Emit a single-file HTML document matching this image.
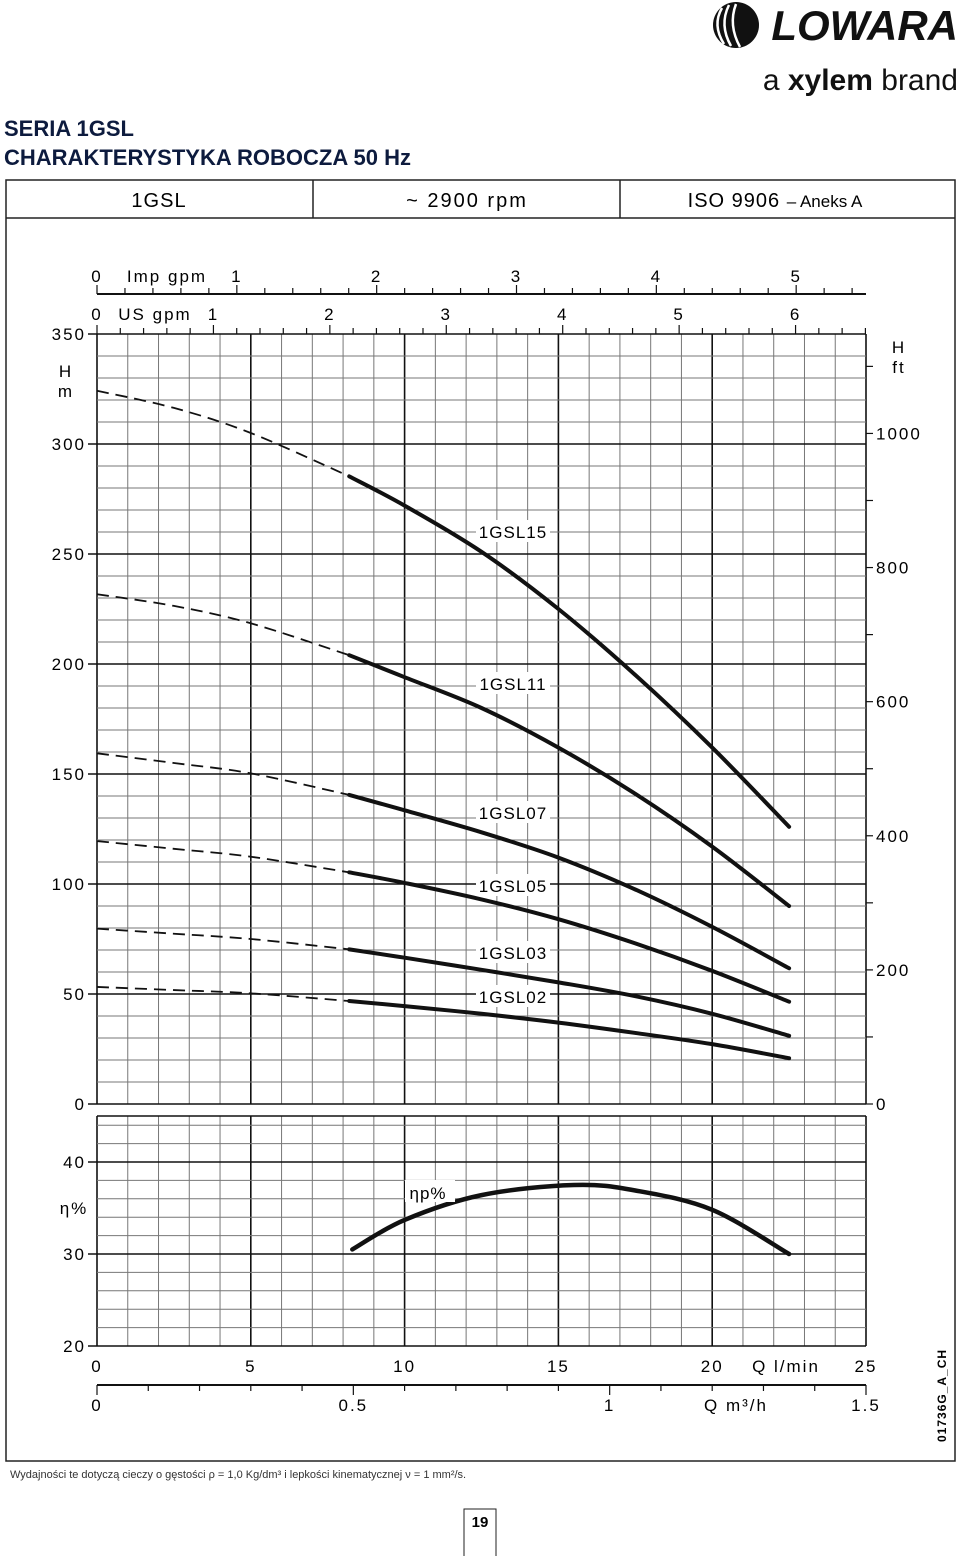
<!DOCTYPE html>
<html><head><meta charset="utf-8"><style>
html,body{margin:0;padding:0;background:#fff}
body{width:960px;height:1556px;position:relative;overflow:hidden;font-family:"Liberation Sans",sans-serif}
svg text{font-family:"Liberation Sans",sans-serif}
</style></head><body>
<svg id="chart" width="960" height="1556" viewBox="0 0 960 1556" xmlns="http://www.w3.org/2000/svg">
<g>
 <circle cx="736" cy="25" r="23" fill="#111"/>
 <path d="M722 8 Q712 25 724 44 M729 5 Q719 25 731 46 M736 4 Q728 25 740 47" stroke="#fff" stroke-width="2.5" fill="none"/>
 <text x="958" y="40" text-anchor="end" font-size="42" font-weight="bold" font-style="italic" fill="#111">LOWARA</text>
 <text x="958" y="90" text-anchor="end" font-size="30" fill="#111">a <tspan font-weight="bold">xylem</tspan> brand</text>
</g>
<text x="4" y="136" font-size="22" font-weight="bold" fill="#0d1b3e">SERIA 1GSL</text>
<text x="4" y="165" font-size="22" font-weight="bold" fill="#0d1b3e">CHARAKTERYSTYKA ROBOCZA 50 Hz</text>
<g stroke="#222" stroke-width="1.5" fill="none">
 <rect x="6" y="180" width="949" height="1281"/>
 <line x1="6" y1="218" x2="955" y2="218"/>
 <line x1="313" y1="180" x2="313" y2="218"/>
 <line x1="620" y1="180" x2="620" y2="218"/>
</g>
<text x="159" y="207" text-anchor="middle" font-size="20" letter-spacing="1">1GSL</text>
<text x="467" y="207" text-anchor="middle" font-size="20" letter-spacing="2">~ 2900 rpm</text>
<text x="775" y="207" text-anchor="middle" font-size="20" letter-spacing="1">ISO 9906 <tspan font-size="17" letter-spacing="0">– Aneks A</tspan></text>
<g id="grid"></g><g id="axes"></g><g id="curves"></g>
<text x="10" y="1478" font-size="11" fill="#333">Wydajności te dotyczą cieczy o gęstości ρ = 1,0 Kg/dm³ i lepkości kinematycznej ν = 1 mm²/s.</text>
<rect x="464" y="1509" width="32" height="50" fill="none" stroke="#222" stroke-width="1"/>
<text x="480" y="1527" text-anchor="middle" font-size="15" font-weight="bold">19</text>
<text transform="translate(946,1442) rotate(-90)" font-size="12" font-weight="bold" letter-spacing="1">01736G_A_CH</text>
</svg>
<script>
const qValues=[0,2.5,5,8.2,10,12.5,15,17.5,20,22.5];
const hGSL15=[324.2,316.4,305,285.3,272,251,225,195,162,126];
const hGSL11=[231.7,226.4,218.5,204,194,180,162,141,117,90];
const hGSL07=[159.4,155,150.3,140.5,133.5,123.5,112,97.5,80.5,61.7];
const hGSL05=[119.5,116,112.4,105.3,100.5,93,84,73,60.5,46.5];
const hGSL03=[79.7,77.4,75,70.3,66.5,61,55.3,49,41,31];
const hGSL02=[53.2,51.8,50.3,46.8,44.5,41,37,32.3,27.2,20.8];
const effQ=[8.3,10,12.5,15.5,17.5,20,22.5];
const effValues=[30.5,33.7,36.4,37.5,36.9,34.8,30];
const hTicks=[0,50,100,150,200,250,300,350];
const ftTicks=[0,200,400,600,800,1000];
const effTicks=[20,30,40];
const qTicks=[0,5,10,15,20,25];
const m3hTicks=[0,0.5,1,1.5];
const impTicks=[0,1,2,3,4,5];
const usTicks=[0,1,2,3,4,5,6];
const seriesNames=["1GSL15","1GSL11","1GSL07","1GSL05","1GSL03","1GSL02"];
const labelY=[531,683,812,885,952,996];
const NS="http://www.w3.org/2000/svg";
const X=q=>97+q*769/25;
const Y=h=>1104-h*2.2;
const YE=e=>1346-(e-20)*9.2;
function mk(tag,attrs,parent,txt){const e=document.createElementNS(NS,tag);for(const k in attrs)e.setAttribute(k,attrs[k]);if(txt!==undefined)e.textContent=txt;parent.appendChild(e);return e;}
const grid=document.getElementById('grid'),axes=document.getElementById('axes'),curves=document.getElementById('curves');
for(let q=0;q<=25;q++){const ln=mk('line',{x1:X(q),y1:Y(350),x2:X(q),y2:Y(0),stroke:q%5?'#777':'#111','stroke-width':q%5?1:1.6},grid);

}
for(let h=0;h<=350;h+=10){const ln=mk('line',{x1:X(0),y1:Y(h),x2:X(25),y2:Y(h),stroke:h%50?'#777':'#111','stroke-width':h%50?1:1.6},grid);

}
for(let q=0;q<=25;q++){const ln=mk('line',{x1:X(q),y1:YE(45),x2:X(q),y2:YE(20),stroke:q%5?'#777':'#111','stroke-width':q%5?1:1.6},grid);

}
for(let e=20;e<=45;e+=(e<44?2:1)){const ln=mk('line',{x1:X(0),y1:YE(e),x2:X(25),y2:YE(e),stroke:(e%10==0||e==45)?'#111':'#777','stroke-width':(e%10==0||e==45)?1.6:1},grid);

}
const fs=17;
function T(x,y,s,anchor,name,size){const t=mk('text',{x:x,y:y,'text-anchor':anchor||'middle','font-size':size||fs,'letter-spacing':2},axes,s);

return t;}
hTicks.forEach(h=>{mk('line',{x1:88,y1:Y(h),x2:97,y2:Y(h),stroke:'#111','stroke-width':1.5},axes);T(86,Y(h)+6,String(h),'end','h-tick-label');});
T(66,377,'H','middle','h-axis-title');T(66,397,'m','middle','h-axis-unit');
ftTicks.forEach(f=>{T(876,Y(f*0.3048)+6,String(f),'start','ft-tick-label');});
for(let f=0;f<=1100;f+=100){const y=Y(f*0.3048);if(y<Y(350))continue;mk('line',{x1:866,y1:y,x2:873,y2:y,stroke:'#111','stroke-width':1.2},axes);}
T(899,353,'H','middle','ft-axis-title');T(899,373,'ft','middle','ft-axis-unit');
effTicks.forEach(e=>{mk('line',{x1:88,y1:YE(e),x2:97,y2:YE(e),stroke:'#111','stroke-width':1.5},axes);T(86,YE(e)+6,String(e),'end','eff-tick-label');});
T(74,1214,'η%','middle','eff-axis-title');
qTicks.forEach(q=>{T(X(q),1372,String(q),'middle','q-lmin-tick-label');});
T(786,1372,'Q l/min','middle','q-lmin-axis-title');
mk('line',{x1:X(0),y1:1385,x2:X(25),y2:1385,stroke:'#111','stroke-width':2},axes);
for(let i=0;i<=15;i++){mk('line',{x1:X(i*25/15),y1:1385,x2:X(i*25/15),y2:i%5?1391:1395,stroke:'#111','stroke-width':1.2},axes);}
m3hTicks.forEach(m=>{T(X(m*25/1.5),1411,String(m),'middle','q-m3h-tick-label');});
T(736,1411,'Q m³/h','middle','q-m3h-axis-title');
mk('line',{x1:X(0),y1:294,x2:X(25),y2:294,stroke:'#111','stroke-width':2},axes);
for(let i=0;i*0.2*4.546<=25.01;i++){const x=X(i*0.2*4.546);mk('line',{x1:x,y1:294,x2:x,y2:i%5?288:285,stroke:'#111','stroke-width':1.2},axes);}
impTicks.forEach(g=>T(X(g*4.546),282,String(g),'middle','imp-gpm-tick-label'));
T(167,282,'Imp gpm','middle','imp-gpm-axis-title');
for(let i=0;i*0.2*3.785<=25.01;i++){const x=X(i*0.2*3.785);mk('line',{x1:x,y1:Y(350),x2:x,y2:i%5?Y(350)-6:Y(350)-9,stroke:'#111','stroke-width':1.2},axes);}
usTicks.forEach(g=>T(X(g*3.785),320,String(g),'middle','us-gpm-tick-label'));
T(155,320,'US gpm','middle','us-gpm-axis-title');
const series=[hGSL15,hGSL11,hGSL07,hGSL05,hGSL03,hGSL02];
function smooth(qs,vs,fy){let pts=qs.map((q,i)=>[X(q),fy(vs[i])]);let d='M'+pts[0][0]+' '+pts[0][1];
for(let i=0;i<pts.length-1;i++){const p0=pts[Math.max(0,i-1)],p1=pts[i],p2=pts[i+1],p3=pts[Math.min(pts.length-1,i+2)];
d+=' C'+(p1[0]+(p2[0]-p0[0])/6)+' '+(p1[1]+(p2[1]-p0[1])/6)+' '+(p2[0]-(p3[0]-p1[0])/6)+' '+(p2[1]-(p3[1]-p1[1])/6)+' '+p2[0]+' '+p2[1];}return d;}
series.forEach((vals,s)=>{
 const dq=qValues.slice(0,4),dv=vals.slice(0,4);
 const dash=mk('path',{d:smooth(dq,dv,Y),fill:'none',stroke:'#111','stroke-width':1.8,'stroke-dasharray':'12 7'},curves);
 
 
 const sq=qValues.slice(3),sv=vals.slice(3);
 const sol=mk('path',{d:smooth(sq,sv,Y),fill:'none',stroke:'#111','stroke-width':4,'stroke-linecap':'round'},curves);
 
 
 mk('rect',{x:476,y:labelY[s]-11,width:74,height:22,fill:'#fff'},curves);
 const lb=mk('text',{x:513,y:labelY[s]+7,'text-anchor':'middle','font-size':17,'letter-spacing':1},curves,seriesNames[s]);
 
 
});
const ef=mk('path',{d:smooth(effQ,effValues,YE),fill:'none',stroke:'#111','stroke-width':4.5,'stroke-linecap':'round'},curves);


mk('rect',{x:405,y:1180,width:50,height:22,fill:'#fff'},curves);
const el=mk('text',{x:428,y:1199,'text-anchor':'middle','font-size':17,'letter-spacing':1},curves,'ηp%');


</script>
</body></html>
